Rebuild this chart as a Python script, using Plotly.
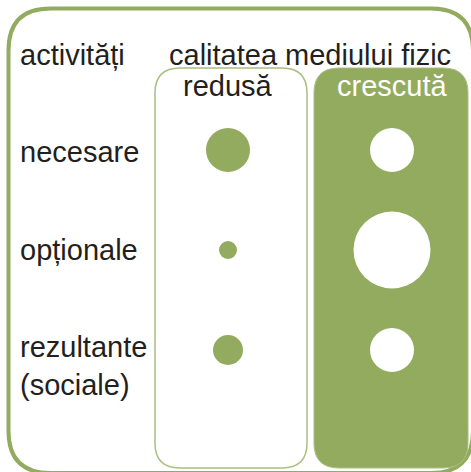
"""Activitati vs calitatea mediului fizic - bubble table."""
import plotly.graph_objects as go

W, H = 471, 472

# data
activities = ["necesare", "opționale", "rezultante<br>(sociale)"]
quality_levels = ["redusă", "crescută"]
size_redusa = [44, 18, 30]       # circle diameter, px
size_crescuta = [44, 77, 44]

GREEN = "#93ab5f"
LIGHT_GREEN = "#a9bf84"
TEXT = "#231f20"
FONT = "Liberation Sans, Arial, sans-serif"
FS = 29

row_y = [150, 250, 350]
col_x = [228, 392]


def rounded_rect(x0, y0, x1, y1, r):
    # y grows downwards (reversed axis)
    return (
        f"M {x0 + r},{y0} L {x1 - r},{y0} Q {x1},{y0} {x1},{y0 + r} "
        f"L {x1},{y1 - r} Q {x1},{y1} {x1 - r},{y1} "
        f"L {x0 + r},{y1} Q {x0},{y1} {x0},{y1 - r} "
        f"L {x0},{y0 + r} Q {x0},{y0} {x0 + r},{y0} Z"
    )


fig = go.Figure()

shapes = [
    # outer frame (runs slightly past the right/bottom edge of the canvas)
    dict(type="path", path=rounded_rect(8.5, 8.5, 473, 473, 42),
         line=dict(color=GREEN, width=4), fillcolor="white", layer="below"),
    # redusa column
    dict(type="path", path=rounded_rect(155, 68, 307, 468, 25),
         line=dict(color=LIGHT_GREEN, width=1.5), fillcolor="white", layer="below"),
    # crescuta column
    dict(type="path", path=rounded_rect(314, 68, 468, 468, 25),
         line=dict(color=LIGHT_GREEN, width=1), fillcolor=GREEN, layer="below"),
]

fig.add_trace(go.Scatter(
    x=[col_x[0]] * len(activities), y=row_y, mode="markers",
    marker=dict(size=size_redusa, color=GREEN, opacity=1, line=dict(width=0)),
    hoverinfo="skip", showlegend=False,
))
fig.add_trace(go.Scatter(
    x=[col_x[1]] * len(activities), y=row_y, mode="markers",
    marker=dict(size=size_crescuta, color="white", opacity=1, line=dict(width=0)),
    hoverinfo="skip", showlegend=False,
))

annotations = [
    dict(x=18, y=55, text="activități", xanchor="left"),
    dict(x=310, y=55, text="calitatea mediului fizic", xanchor="center"),
    dict(x=col_x[0], y=86, text=quality_levels[0], xanchor="center"),
    dict(x=col_x[1], y=86, text=quality_levels[1], xanchor="center",
         font=dict(color="white", size=FS, family=FONT)),
    dict(x=18, y=152, text=activities[0], xanchor="left"),
    dict(x=18, y=250, text=activities[1], xanchor="left"),
    dict(x=18, y=366, text=activities[2], xanchor="left", align="left"),
]
for a in annotations:
    a.setdefault("font", dict(color=TEXT, size=FS, family=FONT))
    a.update(xref="x", yref="y", yanchor="middle", showarrow=False)

fig.update_layout(
    width=W, height=H,
    margin=dict(l=0, r=0, t=0, b=0),
    paper_bgcolor="white", plot_bgcolor="white",
    shapes=shapes, annotations=annotations,
    xaxis=dict(range=[0, W], visible=False, fixedrange=True),
    yaxis=dict(range=[H, 0], visible=False, fixedrange=True),
    hovermode=False,
)

# page body has a default 8px margin; drop it so the figure sits at 0,0
fig.write_html("out.html", config={"displayModeBar": False},
               post_script="document.body.style.margin='0';")
